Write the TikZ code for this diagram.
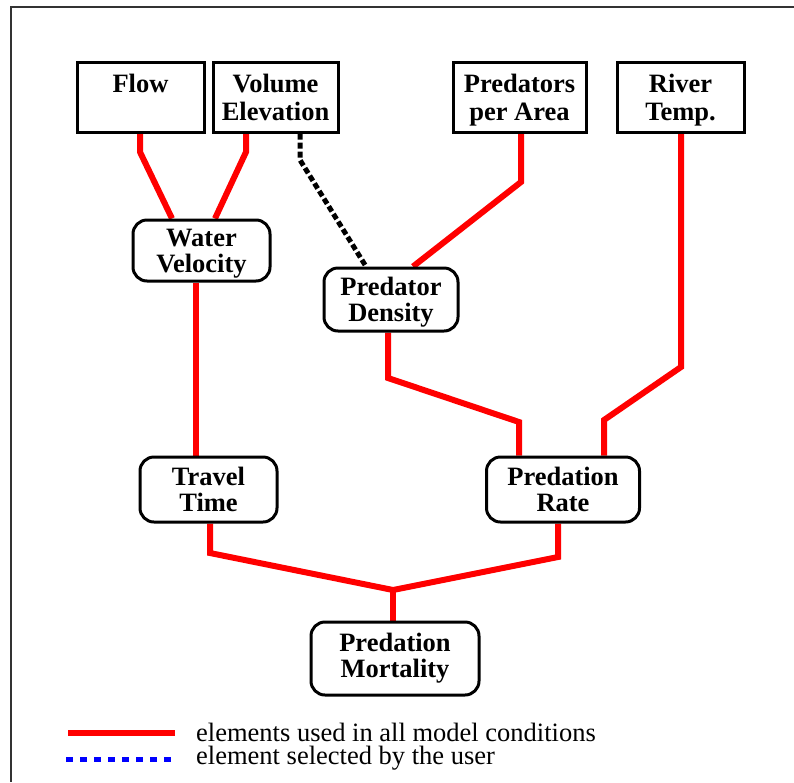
\documentclass[tikz,border=0pt]{standalone}
\usepackage{fontspec}
\setmainfont{Liberation Serif}[BoldFont={Liberation Serif Bold}]
\usetikzlibrary{backgrounds}
\newcommand\bxline[1]{\smash{#1}\rule[-2pt]{0pt}{22pt}}
\newcommand\bxlineup[1]{\smash{\raisebox{3.5pt}{#1}}\rule[-2pt]{0pt}{22pt}}
\begin{document}
\begin{tikzpicture}[x=1pt,y=-1pt,
  sqbox/.style={draw=black, line width=3pt, fill=white, inner sep=0pt, align=center,
    font=\bfseries\fontsize{26.5}{28}\selectfont},
  rbox/.style={draw=black, line width=3pt, fill=white, inner sep=0pt, align=center,
    rounded corners=14pt, font=\bfseries\fontsize{26.5}{26}\selectfont},
  redline/.style={draw=red, line width=6pt},
  userline/.style={draw=black, line width=5pt, dash pattern=on 6pt off 3pt},
  blueline/.style={draw=blue, line width=5pt, dash pattern=on 7pt off 7pt},
  legtext/.style={anchor=west, inner sep=0pt, align=left, font=\fontsize{26.5}{23}\selectfont},
  frameline/.style={draw=black!80, line width=2pt}
]
\useasboundingbox (0,0) rectangle (794,782);
\coordinate (fa) at (11,7);
\coordinate (fb) at (794,7);
\coordinate (fc) at (11,782);
\draw[frameline] (fb) -- (fa) -- (fc);

% top boxes
\node[sqbox, minimum width=127pt, minimum height=70pt] (flow) at (140.5,97) {\bxline{Flow}\\\bxline{}};
\node[sqbox, minimum width=125pt, minimum height=70pt] (vol) at (275.5,97) {\bxline{Volume}\\\bxline{Elevation}};
\node[sqbox, minimum width=133pt, minimum height=70pt] (ppa) at (519.5,97) {\bxline{Predators}\\\bxline{per Area}};
\node[sqbox, minimum width=127pt, minimum height=70pt] (temp) at (680.5,97) {\bxline{River}\\\bxline{Temp.}};

% rounded boxes
\node[rbox, minimum width=137pt, minimum height=61pt] (wv) at (201.5,250.5) {\bxline{Water}\\\bxline{Velocity}};
\node[rbox, minimum width=134pt, minimum height=63pt] (pd) at (391,299.5) {\bxline{Predator}\\\bxline{Density}};
\node[rbox, minimum width=137pt, minimum height=65pt] (tt) at (208.5,489.5) {\bxline{Travel}\\\bxline{Time}};
\node[rbox, minimum width=153pt, minimum height=65pt] (pr) at (563,489.5) {\bxline{Predation}\\\bxline{Rate}};
\node[rbox, minimum width=168pt, minimum height=73pt] (pm) at (395,658.5) {\bxlineup{Predation}\\\bxlineup{Mortality}};

\coordinate (j) at (393,590);

\begin{scope}[on background layer]
\draw[redline] (140,0 |- flow.south) -- (140,152) -- (172,0 |- wv.north);
\draw[redline] (246,0 |- vol.south) -- (246,152) -- (215,0 |- wv.north);
\draw[userline] (300,0 |- vol.south) -- (300,160) -- (366,0 |- pd.north);
\draw[redline] (521,0 |- ppa.south) -- (521,182) -- (413,0 |- pd.north);
\draw[redline] (196,0 |- wv.south) -- (196,0 |- tt.north);
\draw[redline] (388,0 |- pd.south) -- (388,378) -- (519,422) -- (519,0 |- pr.north);
\draw[redline] (681,0 |- temp.south) -- (681,367) -- (604,420) -- (604,0 |- pr.north);
\draw[redline] (210,0 |- tt.south) -- (210,553) -- (j);
\draw[redline] (558,0 |- pr.south) -- (558,557) -- (j);
\draw[redline] (j) -- (393,0 |- pm.north);
\end{scope}

% legend
\coordinate (l1a) at (68,733);
\coordinate (l1b) at (175,733);
\coordinate (l2a) at (66,759);
\coordinate (l2b) at (176,759);
\draw[redline] (l1a) -- (l1b);
\draw[blueline] (l2a) -- (l2b);
\node[legtext] (leg) at (196,744) {\bxline{elements used in all model conditions}\\\bxline{element selected by the user}};
\end{tikzpicture}
\end{document}
